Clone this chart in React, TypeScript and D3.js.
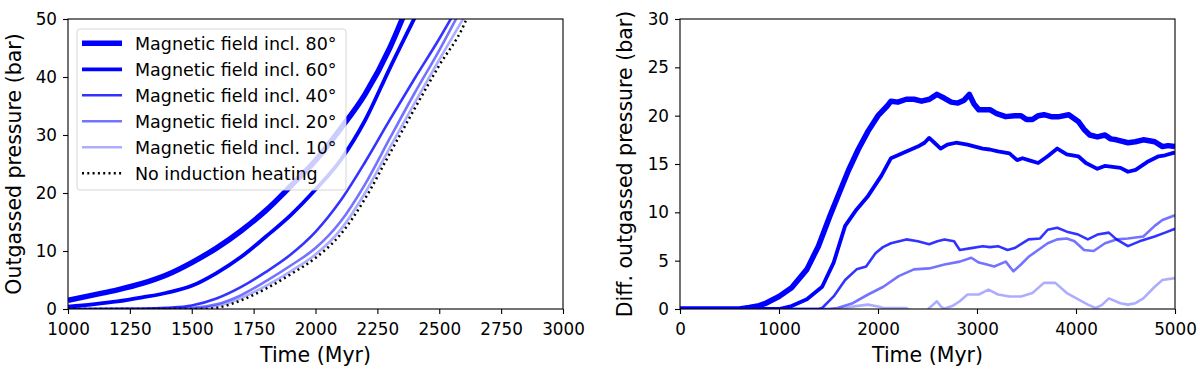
import * as d3 from 'd3';
import React, { useEffect, useRef } from 'react';

// legend labels and styles per series (80, 60, 40, 20, 10 deg, no heating)
const seriesNames = [
  'Magnetic field incl. 80°',
  'Magnetic field incl. 60°',
  'Magnetic field incl. 40°',
  'Magnetic field incl. 20°',
  'Magnetic field incl. 10°',
  'No induction heating',
];

// left panel: outgassed pressure (bar) vs time (Myr)
const left80 = [[1000, 1.5], [1100, 2.4], [1200, 3.3], [1300, 4.4], [1400, 5.9], [1500, 8.0], [1600, 10.5], [1700, 13.5], [1800, 17.0], [1900, 21.2], [2000, 25.6], [2100, 31.0], [2200, 37.0], [2300, 45.0], [2360, 51]];
const left60 = [[1000, 0.4], [1100, 0.8], [1200, 1.3], [1300, 2.0], [1400, 2.8], [1500, 4.0], [1600, 6.2], [1700, 9.0], [1800, 12.5], [1900, 16.2], [2000, 20.6], [2100, 25.6], [2200, 32.5], [2300, 41.5], [2410, 51]];
const left40 = [[1000, 0], [1300, 0.05], [1400, 0.2], [1500, 0.6], [1600, 1.8], [1700, 3.8], [1800, 6.4], [1900, 9.4], [2000, 13.3], [2100, 18.6], [2200, 25.3], [2300, 32.6], [2400, 39.7], [2500, 46.6], [2560, 51]];
const left20 = [[1000, 0], [1400, 0.02], [1500, 0.15], [1600, 0.8], [1700, 2.4], [1800, 4.8], [1900, 7.5], [2000, 10.5], [2100, 15.0], [2200, 21.5], [2300, 29.4], [2400, 37.2], [2500, 44.6], [2580, 51]];
const left10 = [[1000, 0], [1500, 0.05], [1600, 0.5], [1700, 1.9], [1800, 4.0], [1900, 6.5], [2000, 9.4], [2100, 13.6], [2200, 20.0], [2300, 27.8], [2400, 35.5], [2500, 43.0], [2610, 51]];
const leftNone = [[1000, 0], [1550, 0], [1600, 0.2], [1700, 1.5], [1800, 3.5], [1900, 6.0], [2000, 8.8], [2100, 12.8], [2200, 19.0], [2300, 26.8], [2400, 34.5], [2500, 42.0], [2600, 49.0], [2620, 51]];

// right panel: difference to no induction heating
const right80 = [[0, 0], [600, 0], [700, 0.15], [800, 0.35], [857, 0.55], [1000, 1.3], [1127, 2.2], [1282, 4.1], [1398, 6.5], [1513, 9.6], [1600, 11.8], [1700, 14.3], [1800, 16.5], [1900, 18.4], [2000, 20.0], [2093, 21.0], [2131, 21.5], [2200, 21.4], [2286, 21.7], [2363, 21.7], [2440, 21.5], [2520, 21.7], [2595, 22.2], [2672, 21.8], [2740, 21.4], [2807, 21.3], [2870, 21.6], [2923, 22.2], [2970, 21.2], [3019, 20.6], [3135, 20.6], [3200, 20.2], [3290, 19.9], [3380, 20.0], [3444, 20.0], [3500, 19.6], [3560, 19.6], [3620, 20.0], [3676, 20.1], [3750, 19.9], [3830, 19.9], [3927, 20.1], [4023, 19.4], [4080, 18.6], [4139, 18.0], [4216, 17.8], [4293, 18.0], [4350, 17.6], [4409, 17.5], [4525, 17.2], [4600, 17.3], [4680, 17.5], [4740, 17.4], [4795, 17.3], [4873, 16.8], [4930, 16.9], [5000, 16.8]];
const right60 = [[0, 0], [1000, 0], [1127, 0.3], [1282, 1.0], [1436, 2.3], [1552, 4.8], [1668, 8.6], [1784, 10.3], [1900, 11.7], [2035, 13.8], [2131, 15.6], [2200, 15.9], [2286, 16.3], [2402, 16.8], [2470, 17.2], [2517, 17.7], [2570, 17.2], [2633, 16.6], [2700, 17.0], [2788, 17.2], [2904, 17.0], [2980, 16.8], [3058, 16.6], [3130, 16.5], [3212, 16.3], [3328, 16.1], [3405, 15.4], [3460, 15.6], [3521, 15.4], [3618, 15.1], [3714, 15.8], [3811, 16.6], [3907, 16.0], [4023, 15.8], [4100, 15.1], [4216, 14.5], [4290, 14.8], [4371, 14.7], [4450, 14.6], [4525, 14.2], [4602, 14.4], [4718, 15.2], [4834, 15.8], [4900, 15.9], [5000, 16.2]];
const right40 = [[0, 0], [1400, 0], [1436, 0.1], [1552, 1.3], [1668, 3.0], [1784, 4.1], [1880, 4.4], [1977, 5.8], [2050, 6.4], [2131, 6.8], [2286, 7.2], [2402, 7.0], [2517, 6.7], [2600, 7.0], [2672, 7.2], [2768, 7.0], [2826, 6.1], [2942, 6.3], [3058, 6.5], [3130, 6.4], [3212, 6.5], [3309, 6.1], [3380, 6.3], [3444, 6.7], [3521, 7.2], [3637, 7.3], [3714, 8.2], [3811, 8.4], [3907, 8.0], [4023, 7.7], [4120, 7.2], [4216, 7.7], [4332, 7.9], [4409, 7.2], [4525, 6.5], [4641, 7.0], [4795, 7.5], [4900, 7.9], [5000, 8.3]];
const right20 = [[0, 0], [1500, 0], [1591, 0.1], [1745, 0.6], [1900, 1.5], [2054, 2.3], [2209, 3.4], [2363, 4.1], [2517, 4.2], [2672, 4.6], [2826, 4.9], [2942, 5.3], [3019, 4.8], [3100, 4.6], [3174, 4.4], [3290, 4.9], [3367, 3.9], [3444, 4.6], [3521, 5.4], [3618, 6.1], [3714, 6.8], [3811, 7.2], [3907, 7.3], [3985, 7.0], [4081, 6.1], [4178, 6.0], [4293, 6.8], [4409, 7.2], [4525, 7.3], [4680, 7.5], [4795, 8.6], [4873, 9.2], [5000, 9.7]];
const right10 = [[0, 0], [1600, 0], [1668, 0.1], [1780, 0.3], [1900, 0.45], [2000, 0.25], [2054, 0.1], [2286, 0.1], [2350, -0.3], [2480, -0.3], [2520, 0.1], [2556, 0.45], [2595, 0.8], [2640, 0.2], [2672, 0.05], [2750, 0.3], [2826, 0.8], [2904, 1.5], [3019, 1.5], [3116, 2.0], [3212, 1.5], [3328, 1.3], [3444, 1.3], [3560, 1.65], [3676, 2.7], [3791, 2.7], [3907, 1.65], [4023, 1.0], [4120, 0.45], [4197, 0.1], [4260, 0.4], [4332, 1.1], [4448, 0.6], [4525, 0.45], [4600, 0.6], [4680, 1.1], [4795, 2.3], [4873, 3.0], [5000, 3.2]];

const leftTicksX = [1000, 1250, 1500, 1750, 2000, 2250, 2500, 2750, 3000];
const leftTicksY = [0, 10, 20, 30, 40, 50];
const rightTicksX = [0, 1000, 2000, 3000, 4000, 5000];
const rightTicksY = [0, 5, 10, 15, 20, 25, 30];

const styles = [
  { color: 'rgba(0,0,255,1)', width: 5.5, dash: null },
  { color: 'rgba(0,0,255,1)', width: 3.8, dash: null },
  { color: 'rgba(0,0,255,0.8)', width: 2.6, dash: null },
  { color: 'rgba(0,0,255,0.55)', width: 2.6, dash: null },
  { color: 'rgba(0,0,255,0.32)', width: 2.6, dash: null },
  { color: '#000000', width: 2.5, dash: '2,3.3' },
];

const FONT = '"DejaVu Sans", sans-serif';

function drawPanel(svg, opts) {
  const { left, right, top, bottom, xDomain, yDomain, xTicks, yTicks, series, curve, ylabel, ylabelX, id } = opts;

  const x = d3.scaleLinear().domain(xDomain).range([left, right]);
  const y = d3.scaleLinear().domain(yDomain).range([bottom, top]);

  svg
    .append('clipPath')
    .attr('id', id)
    .append('rect')
    .attr('x', left)
    .attr('y', top)
    .attr('width', right - left)
    .attr('height', bottom - top);

  const line = d3
    .line()
    .x(d => x(d[0]))
    .y(d => y(d[1]))
    .curve(curve);

  const g = svg.append('g').attr('clip-path', `url(#${id})`);
  series.forEach((s, i) => {
    if (!s) return;
    const st = styles[i];
    g.append('path')
      .datum(s)
      .attr('d', line)
      .attr('fill', 'none')
      .attr('stroke', st.color)
      .attr('stroke-width', st.width)
      .attr('stroke-linejoin', 'round')
      .attr('stroke-dasharray', st.dash);
  });

  // x axis
  const xa = svg
    .append('g')
    .attr('transform', `translate(0,${bottom})`)
    .call(d3.axisBottom(x).tickValues(xTicks).tickSize(5).tickPadding(9).tickFormat(d3.format('d')));
  // y axis
  const ya = svg
    .append('g')
    .attr('transform', `translate(${left},0)`)
    .call(d3.axisLeft(y).tickValues(yTicks).tickSize(5).tickPadding(6).tickFormat(d3.format('d')));

  [xa, ya].forEach(a => {
    a.select('.domain').remove();
    a.selectAll('line').attr('stroke', '#000').attr('stroke-width', 1.1);
    a.selectAll('text').attr('fill', '#000').style('font-family', FONT).style('font-size', '16.8px');
  });

  // spines
  svg
    .append('rect')
    .attr('x', left)
    .attr('y', top)
    .attr('width', right - left)
    .attr('height', bottom - top)
    .attr('fill', 'none')
    .attr('stroke', '#000')
    .attr('stroke-width', 1.1);

  svg
    .append('text')
    .attr('x', (left + right) / 2)
    .attr('y', 362)
    .attr('text-anchor', 'middle')
    .style('font-family', FONT)
    .style('font-size', '20.5px')
    .text('Time (Myr)');

  svg
    .append('text')
    .attr('transform', `translate(${ylabelX},${(top + bottom) / 2}) rotate(-90)`)
    .attr('text-anchor', 'middle')
    .style('font-family', FONT)
    .style('font-size', '20.5px')
    .text(ylabel);
}

function App() {
  const ref = useRef(null);

  useEffect(() => {
    const svg = d3.select(ref.current);
    svg.selectAll('*').remove();

    drawPanel(svg, {
      id: 'clipLeft',
      left: 68,
      right: 563,
      top: 19,
      bottom: 309,
      xDomain: [1000, 3000],
      yDomain: [0, 50],
      xTicks: leftTicksX,
      yTicks: leftTicksY,
      series: [left80, left60, left40, left20, left10, leftNone],
      curve: d3.curveMonotoneX,
      ylabel: 'Outgassed pressure (bar)',
      ylabelX: 21,
    });

    drawPanel(svg, {
      id: 'clipRight',
      left: 680,
      right: 1175,
      top: 19,
      bottom: 309,
      xDomain: [0, 5000],
      yDomain: [0, 30],
      xTicks: rightTicksX,
      yTicks: rightTicksY,
      series: [right80, right60, right40, right20, right10, null],
      curve: d3.curveLinear,
      ylabel: 'Diff. outgassed pressure (bar)',
      ylabelX: 632,
    });

    // legend in left panel
    const lg = svg.append('g');
    lg.append('rect')
      .attr('x', 77)
      .attr('y', 29)
      .attr('width', 269)
      .attr('height', 161)
      .attr('rx', 3)
      .attr('fill', 'rgba(255,255,255,0.8)')
      .attr('stroke', 'rgba(204,204,204,0.8)')
      .attr('stroke-width', 1);

    seriesNames.forEach((name, i) => {
      const cy = 43.3 + i * 26;
      const st = styles[i];
      lg.append('line')
        .attr('x1', 82)
        .attr('x2', 122)
        .attr('y1', cy)
        .attr('y2', cy)
        .attr('stroke', st.color)
        .attr('stroke-width', st.width)
        .attr('stroke-dasharray', st.dash);
      lg.append('text')
        .attr('x', 135)
        .attr('y', cy)
        .attr('dy', '0.36em')
        .style('font-family', FONT)
        .style('font-size', '17.5px')
        .text(name);
    });
  }, []);

  return (
    <svg
      ref={ref}
      width={1200}
      height={370}
      style={{ position: 'absolute', left: 0, top: 0, background: '#fff' }}
    />
  );
}

export default App;
